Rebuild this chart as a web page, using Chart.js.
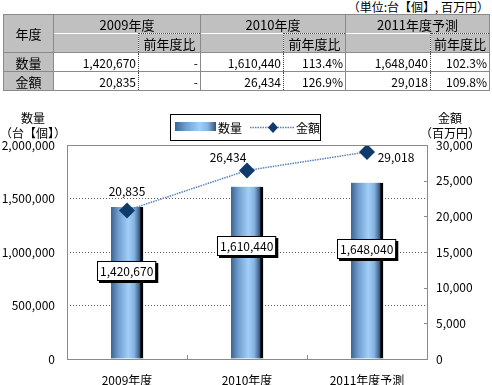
<!DOCTYPE html>
<html><head><meta charset="utf-8">
<script src="https://cdn.jsdelivr.net/npm/chart.js@4/dist/chart.umd.min.js"></script>
<style>
html,body{margin:0;padding:0;background:#fff;}
#wrap{position:relative;width:492px;height:385px;overflow:hidden;font-family:'Liberation Sans Narrow','Noto Sans CJK JP',sans-serif;font-size:12px;color:#000;}
#unit{position:absolute;right:3px;top:-2px;font-size:12px;white-space:nowrap;}
#tbl{position:absolute;left:3px;top:14px;border-collapse:collapse;table-layout:fixed;width:486px;z-index:2;}
#tbl td{border:1px solid #8a8a8a;padding:0 2px;height:18px;line-height:17px;white-space:nowrap;overflow:hidden;}
#tbl td.h{background:#c0c0c0;text-align:center;font-size:13px;}
#tbl td.v{background:#fff;text-align:right;}
#tbl td.nb{border-bottom:none;}
#tbl td.nt{border-top:none;}
#tbl td.dl{border-left:1px dotted #444;}
#tbl td.dt{border-top:1px dotted #444;}
#tbl td.dr{border-right:1px dotted #444;}
canvas{position:absolute;left:0;top:0;}
</style></head>
<body><div id="wrap">
<div id="unit">（単位:台【個】, 百万円）</div>
<table id="tbl"></table>
<canvas id="c" width="492" height="385"></canvas>
</div>
<script>
// ---- data ----
const categories = ['2009年度', '2010年度', '2011年度予測'];
const quantity = [1420670, 1610440, 1648040];
const amount = [20835, 26434, 29018];
const quantityRatio = ['-', '113.4%', '102.3%'];
const amountRatio = ['-', '126.9%', '109.8%'];
const seriesNames = ['数量', '金額'];
const rowHeader = '年度';
const ratioHeader = '前年度比';
const leftTitle = ['数量', '（台【個】）'];
const rightTitle = ['金額', '（百万円）'];
const leftAxis = {min: 0, max: 2000000, step: 500000};
const rightAxis = {min: 0, max: 30000, step: 5000};

const fmt = v => Number(v).toLocaleString('en-US');

// ---- table ----
(function buildTable(){
  const t = document.getElementById('tbl');
  const widths = [50, 85, 62, 83, 62, 85, 59];
  let html = '<colgroup>' + widths.map(w => `<col style="width:${w}px">`).join('') + '</colgroup>';
  html += `<tr><td class="h" rowspan="2">${rowHeader}</td>` +
    categories.map(c => `<td class="h nb" colspan="2">${c}</td>`).join('') + '</tr>';
  html += '<tr>' + categories.map(() => `<td class="h nt dr"></td><td class="h dt dl">${ratioHeader}</td>`).join('') + '</tr>';
  const rows = [[seriesNames[0], quantity, quantityRatio], [seriesNames[1], amount, amountRatio]];
  rows.forEach(r => {
    html += `<tr><td class="h">${r[0]}</td>` +
      categories.map((c, i) => `<td class="v dr">${fmt(r[1][i])}</td><td class="v dl">${r[2][i]}</td>`).join('') + '</tr>';
  });
  t.innerHTML = html;
})();

// ---- chart ----
const FONT = "'Liberation Sans Narrow','Noto Sans CJK JP',sans-serif";
function barGradient(ctx2d, x0, x1){
  const g = ctx2d.createLinearGradient(x0, 0, x1, 0);
  g.addColorStop(0, '#3b6490');
  g.addColorStop(0.25, '#6f9ccc');
  g.addColorStop(0.6, '#a2cff8');
  g.addColorStop(0.8, '#86b4e2');
  g.addColorStop(1, '#33547c');
  return g;
}
const BAR_W = 32;
const lineLabelOffsets = [[0, -19], [-19, -13], [29, 5]];
const barLabelOffsets = [-12, -27, -22];

const deco = {
  id: 'deco',
  afterDatasetsDraw(chart){
    const c = chart.ctx, a = chart.chartArea;
    const x = chart.scales.x, y = chart.scales.y, y1 = chart.scales.y1;
    c.save();
    // plot border
    c.strokeStyle = '#8a8a8a'; c.lineWidth = 1;
    c.strokeRect(Math.round(a.left) + 0.5, Math.round(a.top) + 0.5, Math.round(a.right - a.left), Math.round(a.bottom - a.top));
    // category boundary ticks
    for (let i = 1; i < categories.length; i++) {
      const px = Math.round((x.getPixelForValue(i - 1) + x.getPixelForValue(i)) / 2) + 0.5;
      c.beginPath(); c.moveTo(px, a.bottom); c.lineTo(px, a.bottom - 4); c.stroke();
    }
    // right axis inner ticks
    y1.ticks.forEach(t => {
      const py = Math.round(y1.getPixelForValue(t.value)) + 0.5;
      c.beginPath(); c.moveTo(a.right - 3, py); c.lineTo(a.right, py); c.stroke();
    });
    c.font = '12px ' + FONT; c.fillStyle = '#000';
    // bar labels
    const bm = chart.getDatasetMeta(0);
    bm.data.forEach((el, i) => {
      const txt = fmt(quantity[i]);
      const w = c.measureText(txt).width + 5, h = 19;
      const cx = el.x - 1, cy = (el.y + el.base) / 2 + barLabelOffsets[i];
      const bx = Math.round(cx - w / 2), by = Math.round(cy - h / 2);
      c.fillStyle = '#000'; c.fillRect(bx + 2, by + 2, w + 1, h + 1);
      c.fillStyle = '#fff'; c.fillRect(bx, by, w, h);
      c.strokeStyle = '#000'; c.strokeRect(bx + 0.5, by + 0.5, w, h);
      c.fillStyle = '#000'; c.textAlign = 'center'; c.textBaseline = 'middle';
      c.fillText(txt, bx + w / 2 + 0.5, by + h / 2 + 1);
    });
    // line labels
    const lm = chart.getDatasetMeta(1);
    lm.data.forEach((el, i) => {
      c.textAlign = 'center'; c.textBaseline = 'middle';
      c.fillText(fmt(amount[i]), el.x + lineLabelOffsets[i][0], el.y + lineLabelOffsets[i][1]);
    });
    // axis titles
    c.textAlign = 'center';
    c.fillText(leftTitle[0], 33, 118); c.fillText(leftTitle[1], 33, 133);
    c.fillText(rightTitle[0], 450, 118); c.fillText(rightTitle[1], 450, 133);
    // legend
    c.strokeStyle = '#000';
    c.strokeRect(170.5, 114.5, 150, 26);
    c.fillStyle = barGradient(c, 175, 216);
    c.fillRect(175, 122, 41, 9);
    c.fillStyle = '#000'; c.textAlign = 'left';
    c.fillText(seriesNames[0], 218, 128);
    c.strokeStyle = '#5a82b8'; c.lineWidth = 1.5; c.setLineDash([1.5, 1]);
    c.beginPath(); c.moveTo(250, 127.5); c.lineTo(294, 127.5); c.stroke();
    c.setLineDash([]);
    c.fillStyle = '#0e3a6c';
    c.beginPath(); c.moveTo(273, 122); c.lineTo(278, 127.5); c.lineTo(273, 133); c.lineTo(268, 127.5); c.closePath(); c.fill();
    c.fillStyle = '#000';
    c.fillText(seriesNames[1], 296, 128);
    c.restore();
  }
};

new Chart(document.getElementById('c'), {
  data: {
    labels: categories,
    datasets: [
      {
        type: 'bar', label: seriesNames[0], data: quantity, yAxisID: 'y', order: 2,
        barThickness: BAR_W,
        backgroundColor: (ctx) => {
          const ch = ctx.chart;
          if (!ch.chartArea) return '#86b4e2';
          const px = ch.scales.x.getPixelForValue(ctx.dataIndex);
          return barGradient(ch.ctx, px - BAR_W / 2, px + BAR_W / 2 - 3);
        },
        borderColor: '#000',
        borderWidth: {top: 0, left: 0, bottom: 0, right: 3},
        borderSkipped: false
      },
      {
        type: 'line', label: seriesNames[1], data: amount, yAxisID: 'y1', order: 1,
        borderColor: '#5a82b8', borderWidth: 1.5, borderDash: [1.5, 1],
        pointStyle: 'rectRot', pointRadius: 8, pointHoverRadius: 8,
        pointBackgroundColor: '#0e3a6c', pointBorderColor: '#0e3a6c', pointBorderWidth: 0,
        tension: 0
      }
    ]
  },
  options: {
    responsive: false, animation: false,
    layout: {padding: {top: 145, bottom: 0, left: 0, right: 0}},
    plugins: {legend: {display: false}, tooltip: {enabled: false}},
    scales: {
      x: {
        offset: true,
        grid: {display: false}, border: {display: false},
        ticks: {color: '#000', font: {family: FONT, size: 12}, padding: 6},
        afterFit: s => { s.height = 26; }
      },
      y: {
        position: 'left', min: leftAxis.min, max: leftAxis.max,
        ticks: {stepSize: leftAxis.step, color: '#000', font: {family: FONT, size: 12}, padding: 12, callback: v => fmt(v)},
        grid: {
          drawTicks: false, tickLength: 0, lineWidth: 1,
          color: ctx => (ctx.tick && ctx.tick.value > leftAxis.min && ctx.tick.value < leftAxis.max) ? '#5a5a5a' : 'rgba(0,0,0,0)'
        },
        border: {display: false, dash: [1, 2]},
        afterFit: s => { s.width = 67; }
      },
      y1: {
        position: 'right', min: rightAxis.min, max: rightAxis.max,
        ticks: {stepSize: rightAxis.step, color: '#000', font: {family: FONT, size: 12}, padding: 9, callback: v => fmt(v)},
        grid: {drawOnChartArea: false, drawTicks: false, tickLength: 0},
        border: {display: false},
        afterFit: s => { s.width = 65; }
      }
    }
  },
  plugins: [deco]
});
</script>
</body></html>
